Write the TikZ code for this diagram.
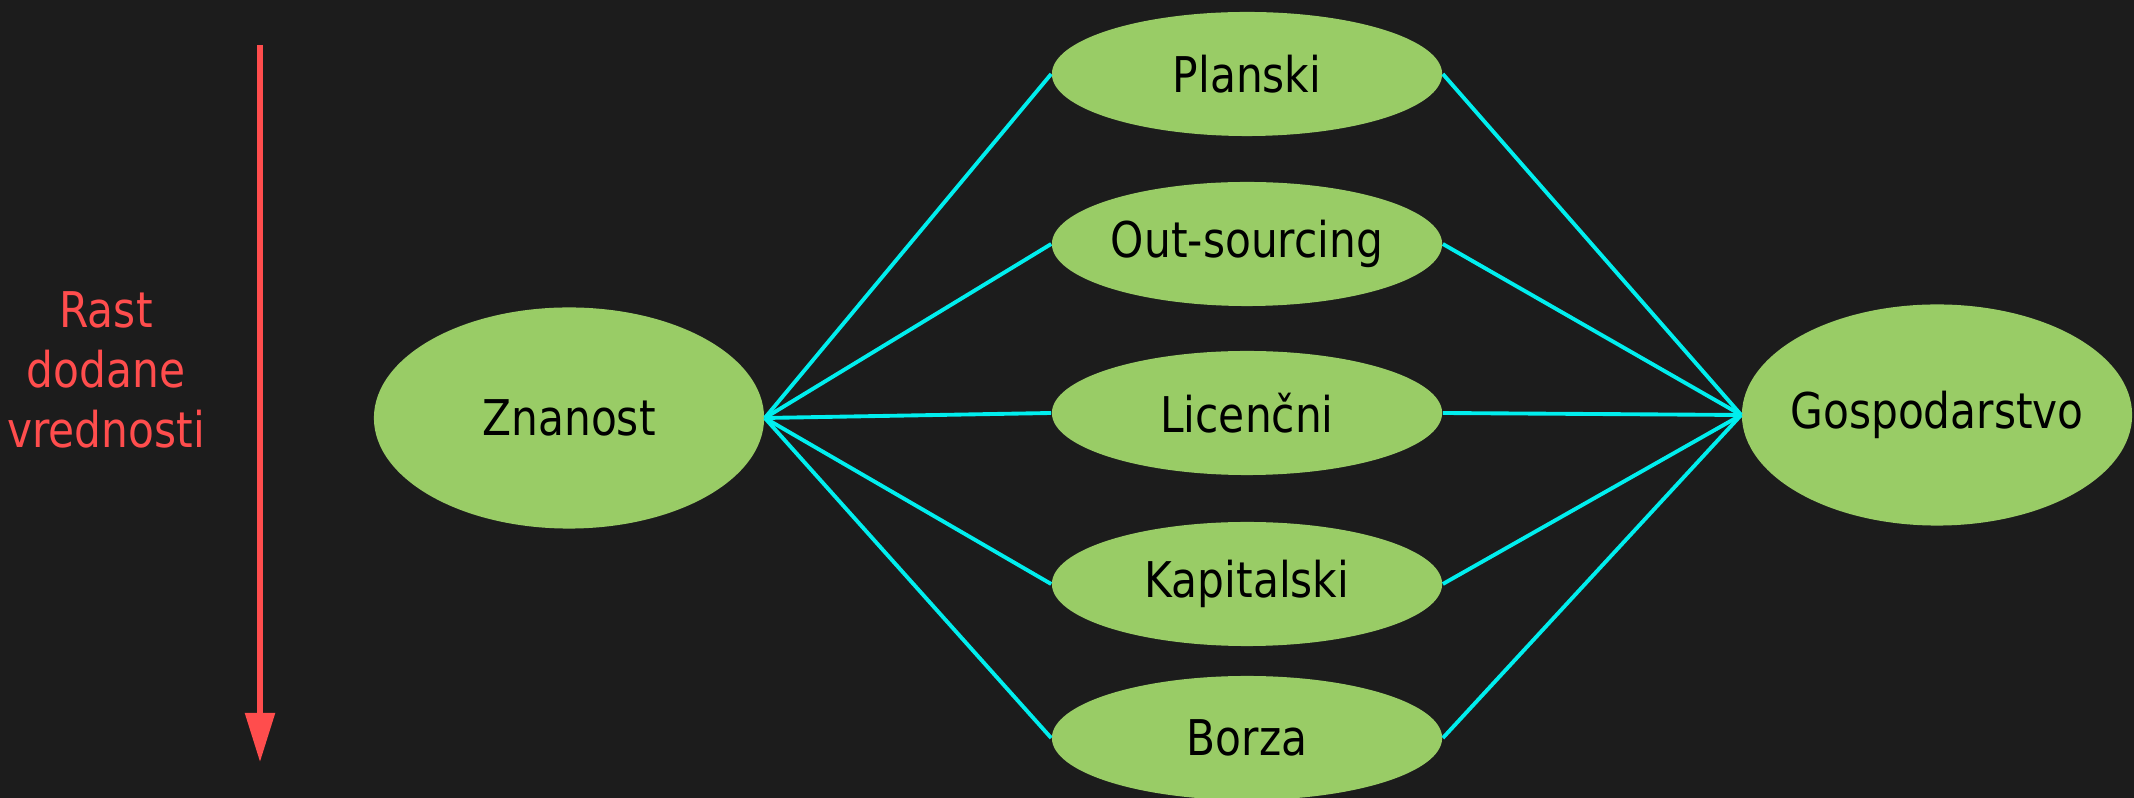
\documentclass[tikz,border=0pt]{standalone}
\usepackage{fontspec}
\setmainfont{DejaVu Sans}[FakeStretch=0.86]
\usetikzlibrary{shapes.geometric,arrows.meta}
\definecolor{bgdark}{HTML}{1C1C1C}
\definecolor{leafgreen}{HTML}{99CC66}
\definecolor{linkcyan}{HTML}{00EEEE}
\definecolor{growthred}{HTML}{FF4D4D}
\tikzset{
  blob/.style={ellipse, fill=leafgreen, inner ysep=0pt, inner xsep=-15pt,
    minimum width=3.9cm, font=\fontsize{14}{17}\selectfont, text=black},
  midblob/.style={blob, minimum height=1.24cm},
  bigblob/.style={blob, minimum height=2.21cm},
  link/.style={draw=linkcyan, line width=1.1pt},
  growth/.style={draw=growthred, line width=1.5pt, -{Triangle[length=14pt,width=8.3pt]}}
}
\begin{document}
\begin{tikzpicture}[x=0.01cm, y=-0.01cm]
\fill[bgdark] (0,0) rectangle (2134,798);
\useasboundingbox (0,0) rectangle (2134,798);
% value growth
\coordinate (gtop) at (260,45);
\coordinate (gbot) at (260,762);
\draw[growth] (gtop) -- (gbot);
\node (growthlbl) at (106,370) [align=center, text=growthred,
  font=\fontsize{14}{17}\selectfont] {Rast\\dodane\\vrednosti};
% ends
\node[bigblob] (sci) at (569,418) {Znanost};
\node[bigblob] (econ) at (1937,415) {Gospodarstvo};
% transfer channels
\node[midblob] (plan) at (1247,74) {Planski};
\node[midblob] (outs) at (1247,244) {Out-sourcing};
\node[midblob] (lic) at (1247,413) {Licenčni};
\node[midblob] (kap) at (1247,584) {Kapitalski};
\node[midblob] (bor) at (1247,738) {Borza};
\foreach \m in {plan, outs, lic, kap, bor} {
  \draw[link] (sci.east) -- (\m.west);
  \draw[link] (\m.east) -- (econ.west);
}
\end{tikzpicture}
\end{document}
